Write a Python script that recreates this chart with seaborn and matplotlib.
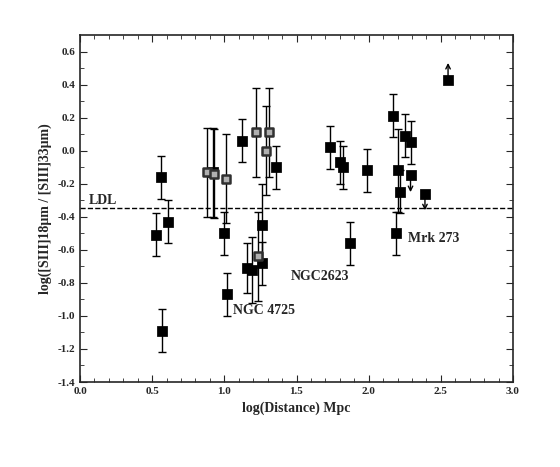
import matplotlib
matplotlib.use("Agg")
import matplotlib.pyplot as plt
import seaborn as sns
import numpy as np
import pandas as pd

sns.set_style("ticks")
plt.rcParams['font.family'] = ['Liberation Serif', 'DejaVu Serif']
plt.rcParams['font.weight'] = 'bold'

bx = [0.53,0.56,0.57,0.61,0.92,1.00,1.02,1.12,1.16,1.19,1.26,1.26,1.36,1.73,1.80,1.82,1.99,2.17,2.20,2.22,2.19,2.25,2.29,1.87]
by = [-0.51,-0.16,-1.09,-0.43,-0.13,-0.50,-0.87,0.06,-0.71,-0.72,-0.45,-0.68,-0.10,0.02,-0.07,-0.10,-0.12,0.21,-0.12,-0.25,-0.50,0.09,0.05,-0.56]
be = [0.13,0.13,0.13,0.13,0.27,0.13,0.13,0.13,0.15,0.20,0.25,0.13,0.13,0.13,0.13,0.13,0.13,0.13,0.25,0.13,0.13,0.13,0.13,0.13]
gx = [0.88,0.93,1.01,1.22,1.31,1.29,1.23]
gy = [-0.13,-0.14,-0.17,0.11,0.11,0.00,-0.64]
ge = [0.27,0.27,0.27,0.27,0.27,0.27,0.27]
ulx = [2.29,2.39]; uly = [-0.15,-0.26]
llx = [2.55]; lly = [0.43]
ldl = -0.345

fig = plt.figure(figsize=(5.6,4.67), dpi=100)
ax = fig.add_axes([80/560, 1-382/467, 433/560, 347/467])
ax.errorbar(bx, by, yerr=be, fmt='none', ecolor='black', elinewidth=1, capsize=3, zorder=2)
ax.errorbar(gx, gy, yerr=ge, fmt='none', ecolor='black', elinewidth=1, capsize=3, zorder=2)
sns.scatterplot(x=bx+ulx+llx, y=by+uly+lly, marker='s', s=45, color='black', edgecolor='black', ax=ax, zorder=3)
sns.scatterplot(x=gx, y=gy, marker='s', s=38, color='#b0b0b0', edgecolor='#303030', linewidth=1.8, ax=ax, zorder=4)
for x, y in zip(ulx, uly):
    ax.annotate('', xy=(x, y), xytext=(0, -14), textcoords='offset points',
                arrowprops=dict(arrowstyle='<-', lw=1, color='black', mutation_scale=8), zorder=5)
for x, y in zip(llx, lly):
    ax.annotate('', xy=(x, y), xytext=(0, 14), textcoords='offset points',
                arrowprops=dict(arrowstyle='<-', lw=1, color='black', mutation_scale=8), zorder=5)
ax.axhline(ldl, ls='--', color='black', lw=1)
ax.text(0.06, -0.30, 'LDL', fontsize=10, fontweight='bold', va='center')
ax.text(1.06, -0.97, 'NGC 4725', fontsize=10, fontweight='bold', va='center')
ax.text(1.66, -0.76, 'NGC2623', fontsize=10, fontweight='bold', va='center', ha='center')
ax.text(2.27, -0.53, 'Mrk 273', fontsize=10, fontweight='bold', va='center')
ax.set_xlim(0, 3.0); ax.set_ylim(-1.4, 0.7)
xt = np.arange(0, 3.01, 0.5); yt = np.round(np.arange(-1.4, 0.61, 0.2), 1)
ax.set_xticks(xt); ax.set_yticks(yt)
ax.set_xticks(np.arange(0, 3.01, 0.1), minor=True); ax.set_yticks(np.arange(-1.4, 0.7, 0.1), minor=True)
ax.set_xticklabels([f"{v:.1f}" for v in xt])
ax.set_yticklabels([f"{v+0:.1f}" if abs(v) > 1e-9 else "0.0" for v in yt])
ax.tick_params(direction='in', which='both', top=True, right=True, labelsize=8)
ax.tick_params(which='major', length=5); ax.tick_params(which='minor', length=3)
for sp in ax.spines.values(): sp.set_linewidth(1.2)
ax.set_xlabel('log(Distance) Mpc', fontsize=10, fontweight='bold')
ax.set_ylabel('log([SIII]18μm / [SIII]33μm)', fontsize=10, fontweight='bold')
fig.savefig('out.png', dpi=100)
